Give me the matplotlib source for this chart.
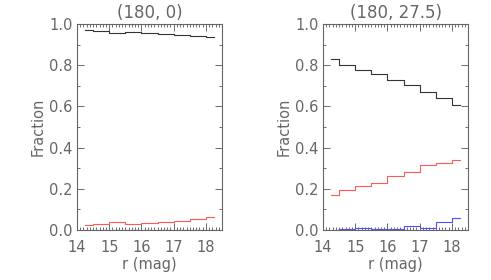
import matplotlib
matplotlib.use("Agg")
import matplotlib.pyplot as plt
from matplotlib.ticker import MultipleLocator
import numpy as np

r_mag = [14.25, 14.75, 15.25, 15.75, 16.25, 16.75, 17.25, 17.75, 18.25]

titles = ["(180, 0)", "(180, 27.5)"]
x_ticks = [14, 15, 16, 17, 18]
y_ticks = [0.0, 0.2, 0.4, 0.6, 0.8, 1.0]

black_left = [0.971, 0.966, 0.958, 0.961, 0.958, 0.951, 0.947, 0.942, 0.935]
red_left = [0.022, 0.027, 0.038, 0.029, 0.033, 0.039, 0.044, 0.053, 0.061]
blue_left = [0.001, 0.001, 0.001, 0.001, 0.001, 0.001, 0.001, 0.001, 0.001]

black_right = [0.828, 0.799, 0.775, 0.757, 0.728, 0.702, 0.670, 0.639, 0.605]
red_right = [0.168, 0.193, 0.214, 0.230, 0.260, 0.280, 0.314, 0.324, 0.338]
blue_right = [0.002, 0.005, 0.012, 0.006, 0.006, 0.018, 0.012, 0.037, 0.057]

panels = [
    (titles[0], black_left, red_left, blue_left),
    (titles[1], black_right, red_right, blue_right),
]

plt.rcParams['font.family'] = ['DejaVu Sans']
fig = plt.figure(figsize=(4.91, 2.80), dpi=100)
txt = '#666666'
lefts = [77 / 491, 323 / 491]
for left, (title, blk, red, blu) in zip(lefts, panels):
    ax = fig.add_axes([left, 50 / 280, 145 / 491, 206 / 280])
    ax.plot(r_mag, blk, drawstyle='steps-mid', color='#333333', lw=0.8)
    ax.plot(r_mag, red, drawstyle='steps-mid', color='#ff5a5a', lw=0.8)
    ax.plot(r_mag, blu, drawstyle='steps-mid', color='#5050ff', lw=0.8)
    ax.set_xlim(14, 18.5)
    ax.set_ylim(0, 1)
    ax.set_xticks(x_ticks)
    ax.set_xticklabels([str(v) for v in x_ticks])
    ax.xaxis.set_minor_locator(MultipleLocator(0.1))
    ax.set_yticks(y_ticks)
    ax.set_yticklabels([f"{v:.1f}" for v in y_ticks])
    ax.yaxis.set_minor_locator(MultipleLocator(0.1))
    ax.tick_params(which='both', direction='in', top=True, right=True,
                   colors='#555555', labelcolor=txt, labelsize=10.5, width=0.6)
    ax.tick_params(which='major', length=5, pad=3)
    ax.tick_params(which='minor', length=2.5)
    ax.tick_params(axis='x', which='major', pad=7)
    for s in ax.spines.values():
        s.set_color('#666666')
        s.set_linewidth(0.8)
    ax.set_title(title, color=txt, fontsize=12, pad=4)
    ax.set_xlabel('r (mag)', color=txt, fontsize=10.5, labelpad=2)
    ax.set_ylabel('Fraction', color=txt, fontsize=10.5, labelpad=3)

fig.savefig('out.png', dpi=100)
